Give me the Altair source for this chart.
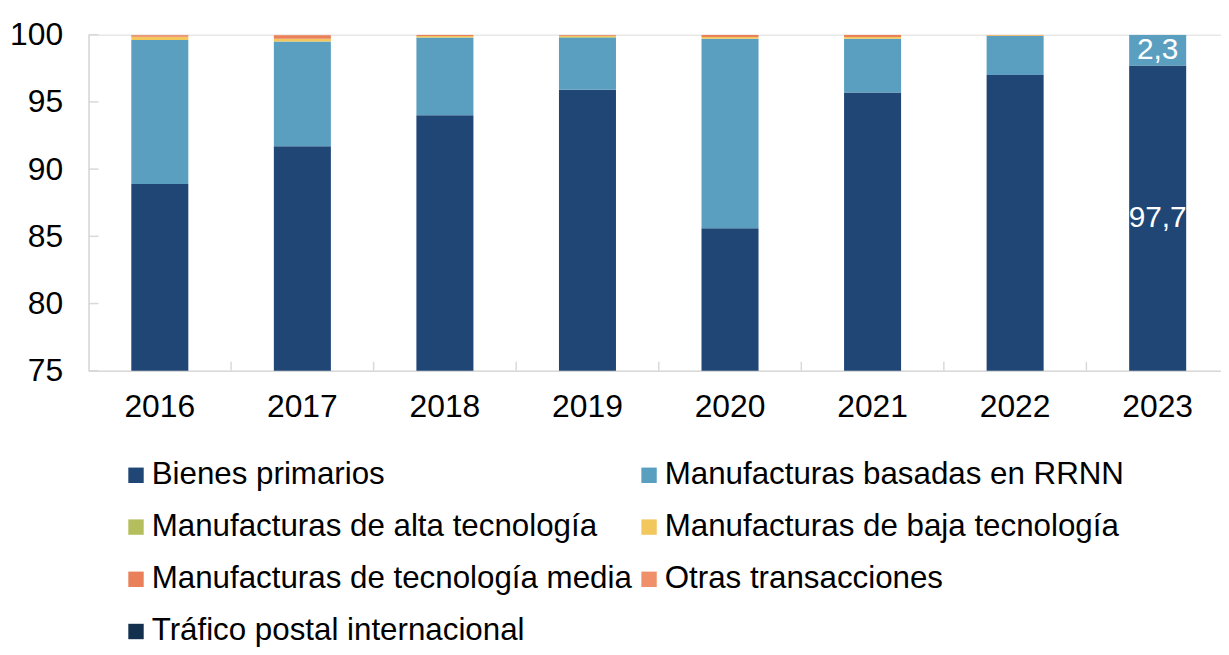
import altair as alt
import pandas as pd

years = ["2016", "2017", "2018", "2019", "2020", "2021", "2022", "2023"]
categories = [
    "Bienes primarios",
    "Manufacturas basadas en RRNN",
    "Manufacturas de alta tecnología",
    "Manufacturas de baja tecnología",
    "Manufacturas de tecnología media",
    "Otras transacciones",
    "Tráfico postal internacional",
]
colors = ["#1F4675", "#5B9FC0", "#B4BE5C", "#F2C75C", "#E9805A", "#F0906A", "#13304F"]

primarios = [88.9, 91.7, 94.0, 95.9, 85.6, 95.7, 97.0, 97.7]
rrnn = [10.7, 7.8, 5.8, 3.9, 14.1, 4.0, 2.9, 2.3]
alta = [0.0, 0.0, 0.0, 0.02, 0.0, 0.0, 0.0, 0.0]
baja = [0.25, 0.2, 0.1, 0.1, 0.12, 0.12, 0.05, 0.03]
media = [0.1, 0.25, 0.08, 0.06, 0.15, 0.15, 0.03, 0.01]
otras = [0.05, 0.05, 0.02, 0.02, 0.03, 0.03, 0.02, 0.01]
postal = [0.0, 0.0, 0.0, 0.0, 0.0, 0.0, 0.0, 0.0]

y_ticks = [75, 80, 85, 90, 95, 100]
y_min, y_max = 75, 100
labelled_year = "2023"

series = [primarios, rrnn, alta, baja, media, otras, postal]
rows = []
for ci, (cat, vals) in enumerate(zip(categories, series)):
    for yr, v in zip(years, vals):
        rows.append({"year": yr, "cat": cat, "idx": ci, "value": v})
df = pd.DataFrame(rows)

# labels for the last year, positioned in the middle of the visible segment
lab_rows = []
i = years.index(labelled_year)
lo = 0.0
for cat, vals in zip(categories[:2], series[:2]):
    hi = lo + vals[i]
    mid = (max(lo, y_min) + min(hi, y_max)) / 2
    lab_rows.append({"year": labelled_year, "pos": mid,
                     "txt": f"{vals[i]:.1f}".replace(".", ",")})
    lo = hi
lab_df = pd.DataFrame(lab_rows)

W, H = 1147, 338
STEP = W / len(years)
FONT = "Liberation Sans"

x_enc = alt.X("year:N", sort=years,
              scale=alt.Scale(paddingInner=0.6, paddingOuter=0.3),
              axis=alt.Axis(title=None, labelAngle=0, labelFontSize=32, labelFont=FONT,
                            labelColor="#000000", ticks=False, tickSize=0, labelPadding=21,
                            domainColor="#D9D9D9", domainWidth=1.5))
y_scale = alt.Scale(domain=[y_min, y_max], nice=False, zero=False)

bars = alt.Chart(df).mark_bar(clip=True).encode(
    x=x_enc,
    y=alt.Y("value:Q", stack="zero", scale=y_scale,
            axis=alt.Axis(title=None, values=y_ticks, labelFontSize=32, labelFont=FONT,
                          labelColor="#000000", ticks=False, tickSize=0, labelPadding=26,
                          grid=False, domainColor="#D9D9D9", domainWidth=1.5)),
    color=alt.Color("cat:N", sort=categories,
                    scale=alt.Scale(domain=categories, range=colors),
                    legend=alt.Legend(title=None, orient="none", legendX=32, legendY=427,
                                      columns=2, direction="horizontal",
                                      symbolType="square", symbolSize=240,
                                      symbolStrokeWidth=0, symbolOpacity=1,
                                      labelFontSize=31.5, labelFont=FONT, labelColor="#000000",
                                      labelOffset=0, rowPadding=19.5, columnPadding=1,
                                      labelLimit=700, padding=0)),
    order=alt.Order("idx:Q", sort="ascending"),
)

labels = alt.Chart(lab_df).mark_text(color="white", fontSize=30, font=FONT).encode(
    x=alt.X("year:N", sort=years),
    y=alt.Y("pos:Q", scale=y_scale),
    text="txt:N",
)

ytick_df = pd.DataFrame({"v": y_ticks})
yticks = alt.Chart(ytick_df).mark_rule(color="#D9D9D9", strokeWidth=1.5).encode(
    y=alt.Y("v:Q", scale=y_scale),
    x=alt.value(0),
    x2=alt.value(10),
)

xtick_df = pd.DataFrame({"year": years})
xticks = alt.Chart(xtick_df).mark_rule(color="#D9D9D9", strokeWidth=1.5,
                                       xOffset=0.3 * STEP).encode(
    x=alt.X("year:N", sort=years, bandPosition=1),
    y=alt.value(H - 9),
    y2=alt.value(H),
)

chart = alt.layer(bars, labels, yticks, xticks).properties(
    width=W, height=H,
    autosize=alt.AutoSizeParams(type="none"),
    padding={"left": 81, "top": 25, "right": -8, "bottom": 276},
).configure_view(stroke=None).configure(background="white")

chart.save("out.html", embed_options={"renderer": "svg", "actions": False})
